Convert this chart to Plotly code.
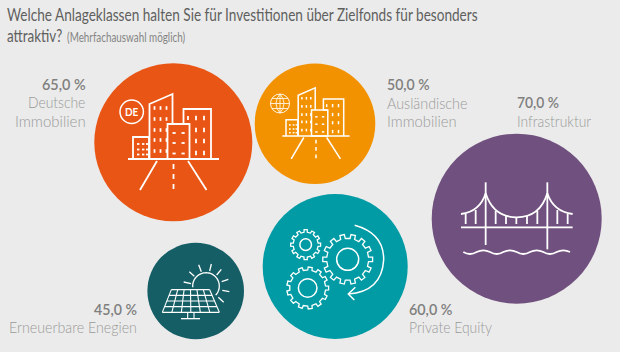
import json
import math
import plotly.graph_objects as go

# --- data -------------------------------------------------------------
categories = ["Deutsche Immobilien", "Ausländische Immobilien", "Infrastruktur",
              "Private Equity", "Erneuerbare Enegien"]
values = [65.0, 50.0, 70.0, 60.0, 45.0]
bubble_x = [173.3, 315.0, 516.7, 335.2, 195.7]
bubble_y = [142.3, 123.7, 218.7, 266.5, 291.0]
bubble_d = [158, 120.6, 170, 145, 96.6]
bubble_colors = ["#e95514", "#f39200", "#70507e", "#009ba4", "#155e66"]

FONT = "Lato"
BG = "#ebebeb"
W = "#ffffff"

fig = go.Figure()
fig.add_trace(go.Scatter(
    x=bubble_x, y=bubble_y, mode="markers", text=categories,
    customdata=values, hovertemplate="%{text}: %{customdata:.1f} %<extra></extra>",
    marker=dict(size=bubble_d, sizemode="diameter", color=bubble_colors, opacity=1, line=dict(width=0)),
))

shapes = []
def path(d, lw=1.5, fill=None):
    s = dict(type="path", path=d, xref="x", yref="y", line=dict(color=W, width=lw))
    if fill:
        s["fillcolor"] = fill
    shapes.append(s)

def line(x0, y0, x1, y1, lw=1.5, dash=None):
    l = dict(color=W, width=lw)
    if dash:
        l["dash"] = dash
    shapes.append(dict(type="line", x0=x0, y0=y0, x1=x1, y1=y1, xref="x", yref="y", line=l))

def poly(pts, close=False, lw=1.5):
    d = "M" + " L".join(f"{x:.1f},{y:.1f}" for x, y in pts)
    path(d + (" Z" if close else ""), lw)

def circle(cx, cy, r, lw=1.5):
    shapes.append(dict(type="circle", x0=cx-r, x1=cx+r, y0=cy-r, y1=cy+r, xref="x", yref="y",
                       line=dict(color=W, width=lw)))

def city(ox, oy, s, lw):
    """city icon; local coords are pixels of the large icon, origin at the ground centre"""
    T = lambda x, y: (ox + x*s, oy + y*s)
    P = lambda pts, close=False: poly([T(*p) for p in pts], close, lw)
    # ground
    P([(-45, 0), (46, 0)])
    # small building
    P([(-40, 0), (-40, -22), (-24, -22), (-24, 0)])
    for r in (-15, -9.5, -4.5):
        for c in (-36, -31, -27):
            P([(c, r), (c+2.4, r)])
    # tall building
    P([(-23.5, 0), (-23.5, -55), (-0.5, -65), (-0.5, -35)])
    for r in (-51, -40, -29, -19, -8):
        for c in (-18.5, -12.5, -6.5):
            P([(c, r-1.8), (c, r+1.8)])
    # centre building
    P([(-5.5, 0), (-5.5, -35), (16.5, -35), (16.5, 0)], True)
    for r in (-26, -16, -5.5):
        for c in (-0.5, 8.5):
            P([(c, r), (c+3.2, r)])
    # right building
    P([(16.5, -35), (10.5, -35), (10.5, -50), (38, -50), (38, 0)])
    for r in (-41, -29, -18, -6):
        for c in (23, 31):
            P([(c, r-2.2), (c, r+2.2)])
    P([(15, -43), (15, -39)])
    # road
    P([(-16, 2), (-33, 31)])
    P([(15, 2), (33.5, 31)])
    for a, b in ((5, 10), (15, 20), (25, 30)):
        P([(0.5, a), (0.5, b)])

# Deutsche Immobilien
city(173.0, 159.0, 1.0, 1.8)
circle(131.7, 111.7, 11.7, 1.5)
# Ausländische Immobilien
city(315.6, 136.0, 0.74, 1.5)
circle(280, 103.5, 9.5, 0.9)
for dy in (-5, 0, 5):
    w = math.sqrt(max(9.5**2 - dy**2, 0))
    line(280-w, 103.5+dy, 280+w, 103.5+dy, 0.8)
line(280, 94, 280, 113, 0.8)
path("M280,94 Q272,103.5 280,113", 0.8)
path("M280,94 Q288,103.5 280,113", 0.8)

# Bridge (zoom origin 430,130)
bx = lambda v: 430 + v/3
by = lambda v: 130 + v/3
line(bx(93), by(292), bx(428), by(292), 1.8)
line(bx(167), by(157), bx(167), by(345), 1.8)
line(bx(352), by(157), bx(352), by(358), 1.8)
path(f"M{bx(167)},{by(190)} Q{bx(190)},{by(262)} {bx(260)},{by(262)} Q{bx(330)},{by(262)} {bx(352)},{by(190)}", 1.8)
path(f"M{bx(93)},{by(252)} Q{bx(150)},{by(245)} {bx(167)},{by(190)}", 1.8)
path(f"M{bx(428)},{by(252)} Q{bx(370)},{by(245)} {bx(352)},{by(190)}", 1.8)
for xv, yv in [(107, 252), (137, 240), (197, 243), (228, 257), (259, 262), (291, 257), (322, 243), (382, 240), (413, 252)]:
    line(bx(xv), by(yv), bx(xv), by(282), 1.8)
wave = f"M{bx(100)},{by(366)}"
for i, xv in enumerate(range(100, 420, 40)):
    ym = 378 if i % 2 == 0 else 356
    wave += f" Q{bx(xv+20)},{by(ym)} {bx(xv+40)},{by(366)}"
path(wave, 1.8)

# Gears
def gear(cx, cy, r_in, r_out, r_hole, teeth, lw=1.3):
    pts = []
    n = teeth
    for i in range(n):
        a = 2*math.pi*i/n
        da = 2*math.pi/n
        for frac, rr in ((-0.25, r_in), (-0.2, r_out), (0.2, r_out), (0.25, r_in)):
            aa = a + frac*da
            pts.append((cx + rr*math.cos(aa), cy + rr*math.sin(aa)))
    poly(pts, True, lw)
    circle(cx, cy, r_hole, lw+0.2)

gx = lambda v: 260 + v/3
gy = lambda v: 190 + v/3
gear(gx(137), gy(164), 12.5, 15, 5.8, 12)
gear(gx(263), gy(208), 21, 25, 11, 14)
gear(gx(143), gy(294), 18, 21, 9.3, 13)
path(f"M{gx(284)},{gy(106)} Q{gx(372)},{gy(130)} {gx(371)},{gy(210)} Q{gx(365)},{gy(305)} {gx(265)},{gy(312)}", 1.5)
poly([(gx(286), gy(292)), (gx(265), gy(312)), (gx(283), gy(330))], False, 1.5)

# Solar (zoom origin 140,240)
sx = lambda v: 140 + v/3
sy = lambda v: 240 + v/3
top_l, top_r, bot_l, bot_r = 94, 209, 67, 238
ty, byy = 149, 217
rows = 4
cols = 6
for i in range(cols+1):
    f = i/cols
    line(sx(top_l+(top_r-top_l)*f), sy(ty), sx(bot_l+(bot_r-bot_l)*f), sy(byy), 1.1)
for j in range(rows):
    f = j/rows
    line(sx(top_l+(bot_l-top_l)*f), sy(ty+(byy-ty)*f), sx(top_r+(bot_r-top_r)*f), sy(ty+(byy-ty)*f), 1.1)
line(sx(bot_l), sy(byy), sx(bot_r), sy(byy), 1.3)
line(sx(143), sy(217), sx(143), sy(235), 1.1)
line(sx(162), sy(217), sx(162), sy(235), 1.1)
line(sx(123), sy(236), sx(180), sy(236), 1.3)
cx, cy, r = sx(198), sy(138), 13.3
arc = []
for deg in range(175, 405, 6):          # from lower left over the top to lower right
    arc.append((cx + r*math.cos(math.radians(deg)), cy + r*math.sin(math.radians(deg))))
poly(arc, False, 1.3)
for a, b, c, d in [(131, 126, 153, 131), (148, 95, 163, 109), (176, 74, 184, 95), (214, 72, 209, 93),
                   (244, 88, 230, 105), (265, 118, 245, 125), (268, 155, 247, 151), (251, 187, 235, 172)]:
    line(sx(a), sy(b), sx(c), sy(d), 1.3)

# --- text -------------------------------------------------------------
ann = []
fit = []   # [x0, x1] target extents, used to condense each text to the reference's narrow face
PAD = 2.0
def text(x0, x1, y, s, size, color, weight=400, font=FONT):
    ann.append(dict(x=x0-PAD, y=y, text=s, xref="x", yref="y", showarrow=False, xanchor="left",
                    yanchor="middle", align="left",
                    font=dict(family=font, size=size, color=color, weight=weight)))
    fit.append([x0, x1])

TITLE = "#5f5f5e"
GREY = "#9a9a99"
DARK = "#7f7f7e"
text(7.3, 478.3, 15.4, "Welche Anlageklassen halten Sie für Investitionen über Zielfonds für besonders", 16.5, TITLE, 400)
text(7.3, 62.7, 36, "attraktiv?", 16.5, TITLE, 400)
text(66.7, 185, 37, "(Mehrfachauswahl möglich)", 12.5, "#858584", 400)

value_text = [f"{v:.1f}".replace(".", ",") + " %" for v in values]
value_pos = [(42, 85.7, 84), (386.7, 429.3, 84.3), (517.3, 559.3, 102.3), (409.3, 452.7, 309), (94.3, 137.3, 309)]
for v, (a, b, y) in zip(value_text, value_pos):
    text(a, b, y, v, 15.5, DARK, 600)

label_pos = [[(28.3, 85.7, 102.3), (15, 85.7, 120.7)],
             [(386.7, 467.3, 102.7), (387, 456.7, 120.7)],
             [(517.3, 592, 120.7)],
             [(409.3, 492.7, 326.7)],
             [(9.3, 137.3, 327.3)]]
label_lines = [["Deutsche", "Immobilien"], ["Ausländische", "Immobilien"], [categories[2]], [categories[3]], [categories[4]]]
for lines, poses in zip(label_lines, label_pos):
    for s, (a, b, y) in zip(lines, poses):
        text(a, b, y, s, 15.5, GREY, 300)

# DE label
text(125, 138.4, 111.7, "DE", 11, W, 700)

fig.update_layout(
    width=620, height=352, margin=dict(l=0, r=0, t=0, b=0), autosize=False,
    paper_bgcolor=BG, plot_bgcolor=BG, showlegend=False,
    xaxis=dict(range=[0, 620], visible=False, fixedrange=True),
    yaxis=dict(range=[352, 0], visible=False, fixedrange=True),
    shapes=shapes, annotations=ann,
)
post = """
document.body.style.margin='0';
document.documentElement.style.background='#ebebeb';
var fit=%s;
var ts=document.querySelectorAll('.annotation-text');
ts.forEach(function(t,i){
  var f=fit[i]; if(!f) return;
  var b=t.getBBox(); if(!b.width) return;
  var k=(f[1]-f[0])/b.width;
  t.setAttribute('transform','translate('+b.x+',0) scale('+k+',1) translate('+(-b.x)+',0)');
});
""" % json.dumps(fit)
fig.write_html("out.html", config={"displayModeBar": False}, include_plotlyjs=True, post_script=post)
